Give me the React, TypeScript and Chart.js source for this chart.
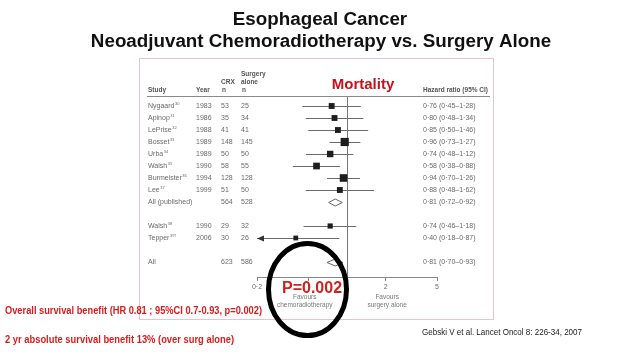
import { useEffect, useRef } from "react";
import { Chart, registerables } from "chart.js";

Chart.register(...registerables);

// ---- data ----
const studyNames = ["Nygaard", "Apinop", "LePrise", "Bosset", "Urba", "Walsh", "Burmeister", "Lee", "All (published)", "Walsh", "Tepper", "All"];
const studyRefs = ["30", "31", "32", "33", "34", "35", "36", "37", "", "38", "39\u2020", ""];
const studyYears = ["1983", "1986", "1988", "1989", "1989", "1990", "1994", "1999", "", "1990", "2006", ""];
const crxN = [53, 35, 41, 148, 50, 58, 128, 51, 564, 29, 30, 623];
const surgeryN = [25, 34, 41, 145, 50, 55, 128, 50, 528, 32, 26, 586];
const hazardRatio = [0.76, 0.8, 0.85, 0.96, 0.74, 0.58, 0.94, 0.88, 0.81, 0.74, 0.4, 0.81];
const ciLow = [0.45, 0.48, 0.5, 0.73, 0.48, 0.38, 0.7, 0.48, 0.72, 0.46, 0.18, 0.7];
const ciHigh = [1.28, 1.34, 1.46, 1.27, 1.12, 0.88, 1.26, 1.62, 0.92, 1.18, 0.87, 0.93];
const studyWeight = [6, 6, 6, 16, 8, 9, 13, 6, 0, 4, 3, 0];
const rowIndex = [0, 1, 2, 3, 4, 5, 6, 7, 8, 10, 11, 13];
const isPooled = [false, false, false, false, false, false, false, false, true, false, false, true];
const xTickValues = [0.2, 0.5, 1, 2, 5];
const xTickLabels = ["0\u00b72", "", "1", "2", "5"];

const fmt = (v: number) => v.toFixed(2).replace(".", "\u00b7");

const SANS = '"Liberation Sans", Arial, sans-serif';

function fitText(ctx: CanvasRenderingContext2D, text: string, x: number, y: number, width: number) {
  const m = ctx.measureText(text).width;
  const sx = width / m;
  ctx.save();
  ctx.translate(x, y);
  ctx.scale(sx, 1);
  ctx.textAlign = "left";
  ctx.fillText(text, 0, 0);
  ctx.restore();
}

const forestPlugin = {
  id: "forest",
  beforeDraw(chart: any) {
    const ctx: CanvasRenderingContext2D = chart.ctx;
    const xs = chart.scales.x;
    const ys = chart.scales.y;
    ctx.save();
    ctx.fillStyle = "#fff";
    ctx.fillRect(0, 0, chart.width, chart.height);

    // pink frame
    ctx.strokeStyle = "#e3c4cf";
    ctx.lineWidth = 1;
    ctx.strokeRect(139.5, 58.5, 354, 261);

    // titles
    ctx.fillStyle = "#111";
    ctx.font = `bold 18.8px ${SANS}`;
    ctx.textAlign = "center";
    ctx.textBaseline = "middle";
    ctx.fillText("Esophageal Cancer", 320, 20);
    ctx.fillText("Neoadjuvant Chemoradiotherapy vs. Surgery Alone", 321, 42);

    // Mortality label
    ctx.fillStyle = "#c3121c";
    ctx.font = `bold 15px ${SANS}`;
    ctx.fillText("Mortality", 363, 85);

    // headers
    ctx.fillStyle = "#555";
    ctx.font = `bold 6.5px ${SANS}`;
    ctx.textAlign = "left";
    ctx.fillText("Study", 148, 90);
    ctx.fillText("Year", 196, 90);
    ctx.fillText("CRX", 221, 82);
    ctx.fillText("n", 222, 90);
    ctx.fillText("Surgery", 241, 74);
    ctx.fillText("alone", 241, 82);
    ctx.fillText("n", 242, 90);
    ctx.fillText("Hazard ratio (95% CI)", 423, 90);

    ctx.strokeStyle = "#8a8a8a";
    ctx.beginPath();
    ctx.moveTo(147, 96.5);
    ctx.lineTo(490, 96.5);
    ctx.stroke();

    // reference line at HR = 1
    const x1 = Math.round(xs.getPixelForValue(1)) + 0.5;
    ctx.strokeStyle = "#777";
    ctx.beginPath();
    ctx.moveTo(x1, 97);
    ctx.lineTo(x1, chart.chartArea.bottom);
    ctx.stroke();

    // CI lines & diamonds
    for (let i = 0; i < studyNames.length; i++) {
      const y = Math.round(ys.getPixelForValue(rowIndex[i])) + 0.5;
      const pl = xs.getPixelForValue(Math.max(ciLow[i], xs.min));
      const pc = xs.getPixelForValue(hazardRatio[i]);
      const ph = xs.getPixelForValue(Math.min(ciHigh[i], xs.max));
      if (isPooled[i]) {
        ctx.fillStyle = "#fff";
        ctx.strokeStyle = "#666";
        ctx.beginPath();
        ctx.moveTo(pl, y);
        ctx.lineTo(pc, y - 3.5);
        ctx.lineTo(ph, y);
        ctx.lineTo(pc, y + 3.5);
        ctx.closePath();
        ctx.fill();
        ctx.stroke();
      } else {
        ctx.strokeStyle = "#6a6a6a";
        ctx.lineWidth = 1;
        ctx.beginPath();
        ctx.moveTo(pl, y);
        ctx.lineTo(ph, y);
        ctx.stroke();
        if (ciLow[i] < xs.min) {
          ctx.fillStyle = "#333";
          ctx.beginPath();
          ctx.moveTo(pl, y);
          ctx.lineTo(pl + 7, y - 3);
          ctx.lineTo(pl + 7, y + 3);
          ctx.closePath();
          ctx.fill();
        }
      }
    }
    ctx.restore();
  },
  afterDraw(chart: any) {
    const ctx: CanvasRenderingContext2D = chart.ctx;
    const xs = chart.scales.x;
    const ys = chart.scales.y;
    ctx.save();
    ctx.textBaseline = "middle";
    ctx.fillStyle = "#6a6a6a";
    for (let i = 0; i < studyNames.length; i++) {
      const y = ys.getPixelForValue(rowIndex[i]);
      ctx.font = `7px ${SANS}`;
      ctx.textAlign = "left";
      ctx.fillText(studyNames[i], 148, y);
      if (studyRefs[i]) {
        const w = ctx.measureText(studyNames[i]).width;
        ctx.font = `4px ${SANS}`;
        ctx.fillText(studyRefs[i], 148 + w + 0.5, y - 2.5);
        ctx.font = `7px ${SANS}`;
      }
      ctx.fillText(studyYears[i], 196, y);
      ctx.fillText(String(crxN[i]), 221, y);
      ctx.fillText(String(surgeryN[i]), 241, y);
      ctx.fillText(`${fmt(hazardRatio[i])} (${fmt(ciLow[i])}\u2013${fmt(ciHigh[i])})`, 423, y);
    }

    // favours labels
    ctx.font = `6.5px ${SANS}`;
    ctx.textAlign = "center";
    ctx.fillStyle = "#777";
    const fl = xs.getPixelForValue(0.47);
    const fr = xs.getPixelForValue(2.05);
    ctx.fillText("Favours", fl, 297);
    ctx.fillText("chemoradiotherapy", fl, 305);
    ctx.fillText("Favours", fr, 297);
    ctx.fillText("surgery alone", fr, 305);

    // circle
    ctx.strokeStyle = "#000";
    ctx.lineWidth = 5;
    ctx.beginPath();
    ctx.ellipse(307.5, 289.5, 39, 46, 0, 0, Math.PI * 2);
    ctx.stroke();

    // P value
    ctx.fillStyle = "#d21f1f";
    ctx.font = `bold 16px ${SANS}`;
    ctx.textAlign = "center";
    ctx.fillText("P=0.002", 312, 289);

    // footnotes
    ctx.fillStyle = "#d91c1c";
    ctx.font = `bold 10px ${SANS}`;
    fitText(ctx, "Overall survival benefit (HR 0.81 ; 95%CI 0.7-0.93, p=0.002)", 5, 311, 257);
    fitText(ctx, "2 yr absolute survival benefit 13% (over surg alone)", 5, 340, 229);
    ctx.fillStyle = "#222";
    ctx.font = `9px ${SANS}`;
    fitText(ctx, "Gebski V et al. Lancet Oncol 8: 226-34, 2007", 422, 333, 160);
    ctx.restore();
  },
};

export default function App() {
  const ref = useRef<HTMLCanvasElement>(null);
  useEffect(() => {
    if (!ref.current) return;
    const pts: any[] = [];
    const radii: number[] = [];
    for (let i = 0; i < studyNames.length; i++) {
      if (isPooled[i]) continue;
      pts.push({ x: hazardRatio[i], y: rowIndex[i] });
      const side = 2.2 + Math.sqrt(studyWeight[i]) * 1.5;
      radii.push(side / Math.SQRT2);
    }
    const chart = new Chart(ref.current, {
      type: "scatter",
      data: {
        datasets: [
          {
            data: pts,
            pointStyle: "rect",
            pointRadius: radii,
            backgroundColor: "#1e1e1e",
            borderWidth: 0,
          },
        ],
      },
      options: {
        responsive: false,
        animation: false,
        devicePixelRatio: 1,
        events: [],
        layout: { padding: { left: 257, right: 201, top: 94, bottom: 52 } },
        scales: {
          x: {
            type: "logarithmic",
            min: 0.2,
            max: 5,
            afterBuildTicks: (s: any) => {
              s.ticks = xTickValues.map((v) => ({ value: v }));
            },
            afterFit: (s: any) => {
              s.height = 30;
            },
            ticks: {
              autoSkip: false,
              maxRotation: 0,
              padding: 2,
              color: "#6a6a6a",
              font: { size: 7, family: SANS },
              callback: (v: any) => {
                const idx = xTickValues.findIndex((t) => Math.abs(t - Number(v)) < 1e-9);
                return idx >= 0 ? xTickLabels[idx] : "";
              },
            },
            grid: { drawOnChartArea: false, drawTicks: true, tickLength: 4, color: "#888" },
            border: { color: "#888" },
          },
          y: { type: "linear", reverse: true, min: -1, max: 14.25, display: false },
        },
        plugins: { legend: { display: false }, tooltip: { enabled: false }, title: { display: false } },
      },
      plugins: [forestPlugin],
    } as any);
    return () => chart.destroy();
  }, []);
  return (
    <div style={{ position: "absolute", left: 0, top: 0, width: 638, height: 359 }}>
      <canvas ref={ref} width={638} height={359} style={{ width: 638, height: 359 }} />
    </div>
  );
}
